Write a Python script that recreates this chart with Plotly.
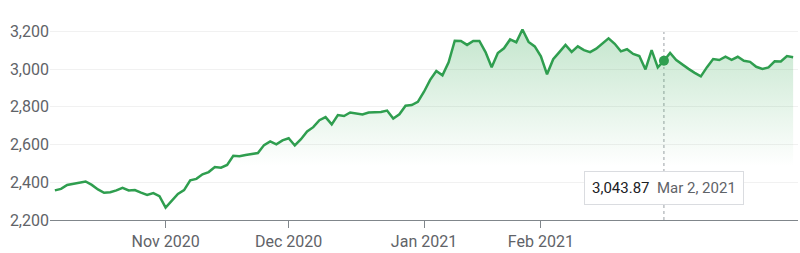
import pandas as pd
import plotly.graph_objects as go

# Trading days (US market) from Oct 7, 2020 to Mar 31, 2021
holidays = ["2020-11-26", "2020-12-25", "2021-01-01", "2021-01-18", "2021-02-15"]
dates = [d for d in pd.bdate_range("2020-10-07", "2021-03-31") if d.strftime("%Y-%m-%d") not in holidays]

values = [
    2357, 2365, 2386, 2393, 2400, 2404, 2386, 2362, 2344, 2347,
    2357, 2371, 2357, 2359, 2345, 2333, 2343, 2326, 2266, 2303,
    2338, 2358, 2410, 2418, 2442, 2454, 2481, 2477, 2492, 2540,
    2538, 2545, 2550, 2555, 2597, 2617, 2601, 2622, 2633, 2595,
    2628, 2669, 2692, 2729, 2745, 2707, 2756, 2751, 2770, 2766,
    2759, 2770, 2772, 2773, 2780, 2738, 2760, 2806, 2809, 2826,
    2880, 2943, 2990, 2967, 3036, 3150, 3149, 3128, 3149, 3149,
    3090, 3010, 3085, 3110, 3157, 3142, 3210, 3144, 3120, 3068,
    2972, 3052, 3090, 3128, 3091, 3120, 3100, 3090, 3108, 3138,
    3163, 3134, 3094, 3105, 3080, 3069, 2998, 3100, 3009, 3043.87,
    3085, 3048, 3023, 3001, 2980, 2961, 3010, 3053, 3048, 3066,
    3049, 3065, 3044, 3038, 3012, 3001, 3009, 3041, 3040, 3069,
    3063,
]

tick_dates = ["2020-11-02", "2020-12-01", "2021-01-04", "2021-02-01"]
tick_labels = ["Nov 2020", "Dec 2020", "Jan 2021", "Feb 2021"]
y_ticks = [2200, 2400, 2600, 2800, 3000, 3200]

hover_date = pd.Timestamp("2021-03-02")
hover_idx = dates.index(hover_date)
hover_val = values[hover_idx]

GREEN = "#2f9e4f"
fig = go.Figure()
fig.add_trace(go.Scatter(
    x=dates, y=values, mode="lines",
    line=dict(color=GREEN, width=2.5),
    fill="tozeroy",
    fillgradient=dict(type="vertical",
                      colorscale=[[0, "rgba(52,168,83,0)"], [1, "rgba(52,168,83,0.3)"]],
                      start=2520, stop=3230),
    hoverinfo="skip",
))
fig.add_trace(go.Scatter(
    x=[dates[hover_idx]], y=[hover_val], mode="markers",
    marker=dict(color=GREEN, size=10), hoverinfo="skip",
))

fig.add_shape(type="line", xref="x", yref="paper",
              x0=dates[hover_idx], x1=dates[hover_idx], y0=0, y1=0.91,
              line=dict(color="#9aa0a6", width=1, dash="dot"), layer="below")

fig.add_annotation(
    xref="x", yref="paper", x=dates[hover_idx], y=0.152,
    xanchor="center", yanchor="middle", showarrow=False,
    text=(f"<span style='color:#202124'>{hover_val:,.2f}</span>"
          f"  <span style='color:#5f6368'>{hover_date.strftime('%b')} {hover_date.day}, {hover_date.year}</span>"),
    font=dict(size=15, family="Roboto"),
    bgcolor="white", bordercolor="#dadce0", borderwidth=1, borderpad=7,
)

fig.update_layout(
    width=800, height=253,
    margin=dict(l=50, r=2, t=10, b=24),
    paper_bgcolor="white", plot_bgcolor="white",
    showlegend=False,
    font=dict(family="Roboto", size=16, color="#5f6368"),
)
fig.update_xaxes(
    range=["2020-10-06 05:00", "2021-03-31 19:00"],
    rangebreaks=[dict(bounds=["sat", "mon"]), dict(values=holidays)],
    tickvals=tick_dates, ticktext=tick_labels,
    showgrid=False, showline=True, linecolor="#80868b", linewidth=1,
    ticks="outside", ticklen=7, tickcolor="#80868b",
    tickfont=dict(size=16, color="#5f6368"),
    zeroline=False, fixedrange=True,
)
fig.update_yaxes(
    range=[2200, 3313],
    tickvals=y_ticks, tickformat=",",
    showgrid=True, gridcolor="#f1f1f1", gridwidth=1,
    zeroline=False, showline=False, ticks="",
    tickfont=dict(size=16, color="#5f6368"),
    fixedrange=True,
)

fig.write_html("out.html")
